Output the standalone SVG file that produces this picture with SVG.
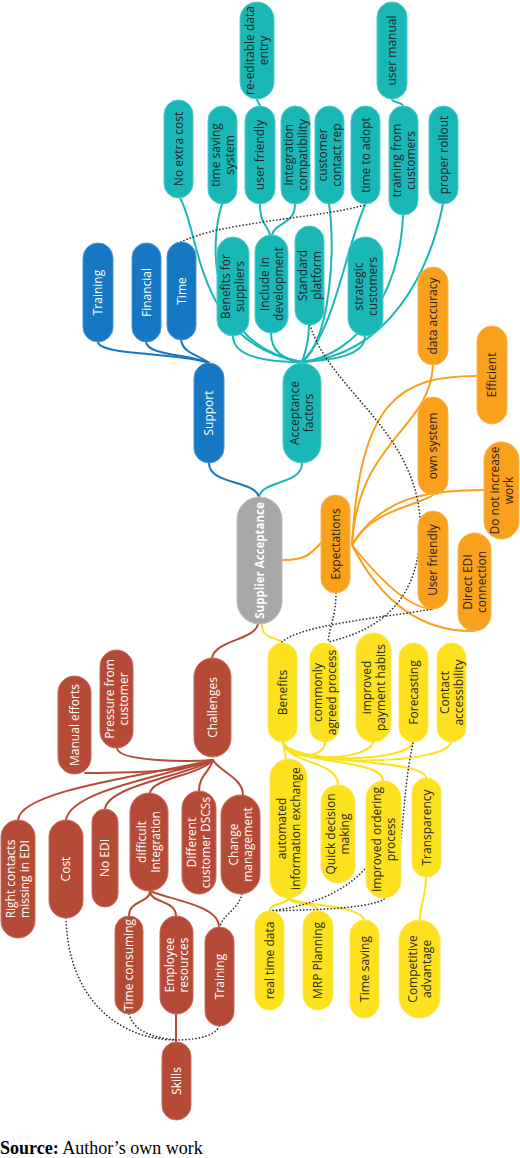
<svg xmlns="http://www.w3.org/2000/svg" width="520" height="1158" viewBox="0 0 520 1158">
<style>
text{font-family:"Open Sans","Noto Sans","DejaVu Sans",sans-serif;font-size:12px;text-anchor:middle}
.teal rect{fill:#19b8b7;stroke:#52cbca;stroke-width:1}
.teal text{fill:#1e2626}
.blue rect{fill:#1677c3;stroke:#4b95d3;stroke-width:1}
.blue text{fill:#ffffff}
.gray rect{fill:#a7a7a7;stroke:#bdbdbd;stroke-width:1}
.gray text{fill:#ffffff;font-weight:bold;font-size:11.5px}
.orange rect{fill:#f9a11d;stroke:#fbb650;stroke-width:1}
.orange text{fill:#2a2218}
.yellow rect{fill:#fde01e;stroke:#fde85a;stroke-width:1}
.yellow text{fill:#2a2a10}
.red rect{fill:#b54b37;stroke:#c86e5c;stroke-width:1}
.red text{fill:#ffffff}
.c{fill:none;stroke-width:2;stroke-linecap:round}
.ct{stroke:#19b8b7}.cb{stroke:#1677c3}.co{stroke:#f9a11d}.cy{stroke:#fde01e}.cr{stroke:#b54b37}
.dot{fill:none;stroke:#333;stroke-width:1.7;stroke-dasharray:0.1 3.3;stroke-linecap:round}
.src{font-family:"Liberation Serif","Times New Roman",serif;font-size:18px;text-anchor:start;fill:#000}
</style>
<g id="connectors">
<!-- teal -->
<path class="c ct" d="M302,463 C302,485 262,480 259,497"/>
<path class="c ct" d="M233,336 C233,355 260,362 302,362"/>
<path class="c ct" d="M271,333 C271,352 285,360 302,362"/>
<path class="c ct" d="M309,325 C309,345 304,355 302,362"/>
<path class="c ct" d="M365,336 C365,355 335,360 302,362"/>
<path class="c ct" d="M180,198 C200,230 195,345 302,362"/>
<path class="c ct" d="M222,204 C210,240 205,345 302,362"/>
<path class="c ct" d="M329,204 C336,250 330,340 302,362"/>
<path class="c ct" d="M365,205 C345,250 335,330 302,362"/>
<path class="c ct" d="M403,215 C400,290 360,355 302,362"/>
<path class="c ct" d="M443,204 C430,270 390,355 302,362"/>
<path class="c ct" d="M260,204 C260,225 268,225 270,235"/>
<path class="c ct" d="M295,204 C295,225 275,222 272,235"/>
<path class="c ct" d="M257,99 C257,103 260,103 260,106"/>
<path class="c ct" d="M392,99 C392,103 403,102 403,106"/>
<!-- blue -->
<path class="c cb" d="M209,463 C209,485 255,480 259,497"/>
<path class="c cb" d="M98,342 C100,356 180,352 209,363"/>
<path class="c cb" d="M146,342 C148,356 190,354 209,363"/>
<path class="c cb" d="M181,340 C183,354 200,355 209,363"/>
<!-- orange -->
<path class="c co" d="M282,560 C305,560 310,555 321,543"/>
<path class="c co" d="M352,545 C358,440 430,430 433,365"/>
<path class="c co" d="M352,545 C360,400 400,376 477,376"/>
<path class="c co" d="M352,545 C370,510 420,505 433,495"/>
<path class="c co" d="M352,545 C380,500 420,490 484,490"/>
<path class="c co" d="M352,545 C380,580 410,609 433,609"/>
<path class="c co" d="M352,545 C380,600 420,632 474,631"/>
<!-- red -->
<path class="c cr" d="M258,624 C255,640 215,640 212,658"/>
<path class="c cr" d="M117,748 C118,762 190,762 213,760"/>
<path class="c cr" d="M85,773 C150,773 190,770 213,760"/>
<path class="c cr" d="M18,820 C20,790 150,775 213,760"/>
<path class="c cr" d="M66,820 C70,790 170,775 213,760"/>
<path class="c cr" d="M105,809 C108,785 190,775 213,760"/>
<path class="c cr" d="M150,793 C152,778 200,775 213,760"/>
<path class="c cr" d="M199,791 C199,775 210,772 213,760"/>
<path class="c cr" d="M243,795 C243,778 220,772 213,760"/>
<path class="c cr" d="M150,891 C150,903 129,900 129,916"/>
<path class="c cr" d="M150,891 C150,903 176,900 176,916"/>
<path class="c cr" d="M150,891 C170,900 219,905 219,927"/>
<path class="c cr" d="M176,1014 L176,1042"/>
<!-- yellow -->
<path class="c cy" d="M262,624 C262,640 276,636 283,643"/>
<path class="c cy" d="M283,742 C285,760 325,760 325,742"/>
<path class="c cy" d="M283,742 C287,765 370,760 373,742"/>
<path class="c cy" d="M283,742 C290,765 410,762 413,742"/>
<path class="c cy" d="M283,742 C292,768 448,765 451,742"/>
<path class="c cy" d="M283,742 L286,760"/>
<path class="c cy" d="M283,742 C288,765 338,760 338,785"/>
<path class="c cy" d="M283,742 C290,765 383,758 383,781"/>
<path class="c cy" d="M283,742 C292,765 426,758 426,778"/>
<path class="c cy" d="M288,898 C288,905 270,902 270,911"/>
<path class="c cy" d="M288,898 C290,905 318,902 318,911"/>
<path class="c cy" d="M288,898 C300,906 362,905 364,920"/>
<path class="c cy" d="M426,877 C426,900 420,900 420,920"/>
<!-- dotted relations -->
<path class="dot" d="M181,242 C220,222 320,218 365,205"/>
<path class="dot" d="M310,325 C330,390 415,430 420,520 C423,600 380,630 328,642"/>
<path class="dot" d="M336,593 C336,615 330,625 328,642"/>
<path class="dot" d="M282,642 C300,625 380,618 433,609"/>
<path class="dot" d="M413,743 C400,800 405,880 383,900 C360,910 300,910 270,911"/>
<path class="dot" d="M378,850 C360,885 320,905 270,911"/>
<path class="dot" d="M242,894 C238,910 222,915 220,927"/>
<path class="dot" d="M66,918 C68,1000 120,1040 176,1040"/>
<path class="dot" d="M129,1014 C135,1035 160,1038 176,1040"/>
<path class="dot" d="M219,1026 C215,1038 190,1040 176,1040"/>
</g>
<!-- teal nodes -->
<g id="re-editable" class="teal"><rect x="240" y="2" width="34" height="97" rx="17"/><text transform="translate(257,50.5) rotate(-90)"><tspan x="0" y="-2.8">re-editable data</tspan><tspan x="0" y="11.2">entry</tspan></text></g>
<g id="user-manual" class="teal"><rect x="377" y="2" width="30" height="97" rx="15"/><text transform="translate(392,50.5) rotate(-90)" y="4.2">user manual</text></g>
<g id="no-extra-cost" class="teal"><rect x="164" y="100" width="29" height="98" rx="14.5"/><text transform="translate(178.5,149) rotate(-90)" y="4.2">No extra cost</text></g>
<g id="time-saving-system" class="teal"><rect x="208" y="106" width="29" height="98" rx="14.5"/><text transform="translate(222.5,155) rotate(-90)"><tspan x="0" y="-2.8">time saving</tspan><tspan x="0" y="11.2">system</tspan></text></g>
<g id="user-friendly-t" class="teal"><rect x="245" y="106" width="30" height="98" rx="15"/><text transform="translate(260,155) rotate(-90)" y="4.2">user friendly</text></g>
<g id="integration-compat" class="teal"><rect x="281" y="106" width="29" height="98" rx="14.5"/><text transform="translate(295.5,155) rotate(-90)"><tspan x="0" y="-2.8">Integration</tspan><tspan x="0" y="11.2">compatibility</tspan></text></g>
<g id="customer-contact" class="teal"><rect x="315" y="106" width="29" height="98" rx="14.5"/><text transform="translate(329.5,155) rotate(-90)"><tspan x="0" y="-2.8">customer</tspan><tspan x="0" y="11.2">contact rep</tspan></text></g>
<g id="time-to-adopt" class="teal"><rect x="351" y="106" width="29" height="98" rx="14.5"/><text transform="translate(365.5,155) rotate(-90)" y="4.2">time to adopt</text></g>
<g id="training-from-customers" class="teal"><rect x="389" y="106" width="29" height="109" rx="14.5"/><text transform="translate(403.5,160.5) rotate(-90)"><tspan x="0" y="-2.8">training from</tspan><tspan x="0" y="11.2">customers</tspan></text></g>
<g id="proper-rollout" class="teal"><rect x="429" y="106" width="29" height="98" rx="14.5"/><text transform="translate(443.5,155) rotate(-90)" y="4.2">proper rollout</text></g>
<g id="benefits-for-suppliers" class="teal"><rect x="217" y="237" width="32" height="99" rx="16"/><text transform="translate(233,286.5) rotate(-90)"><tspan x="0" y="-2.8">Benefits for</tspan><tspan x="0" y="11.2">suppliers</tspan></text></g>
<g id="include-in-development" class="teal"><rect x="255" y="235" width="33" height="98" rx="16.5"/><text transform="translate(271.5,284) rotate(-90)"><tspan x="0" y="-2.8">Include in</tspan><tspan x="0" y="11.2">development</tspan></text></g>
<g id="standard-platform" class="teal"><rect x="295" y="226" width="29" height="99" rx="14.5"/><text transform="translate(309.5,275.5) rotate(-90)"><tspan x="0" y="-2.8">Standard</tspan><tspan x="0" y="11.2">platform</tspan></text></g>
<g id="strategic-customers" class="teal"><rect x="348" y="237" width="35" height="99" rx="17.5"/><text transform="translate(365.5,286.5) rotate(-90)"><tspan x="0" y="-2.8">strategic</tspan><tspan x="0" y="11.2">customers</tspan></text></g>
<g id="acceptance-factors" class="teal"><rect x="283" y="363" width="38" height="100" rx="19"/><text transform="translate(302,413) rotate(-90)"><tspan x="0" y="-2.8">Acceptance</tspan><tspan x="0" y="11.2">factors</tspan></text></g>
<!-- blue nodes -->
<g id="training-b" class="blue"><rect x="83" y="243" width="30" height="99" rx="15"/><text transform="translate(98,292.5) rotate(-90)" y="4.2">Training</text></g>
<g id="financial" class="blue"><rect x="132" y="243" width="29" height="99" rx="14.5"/><text transform="translate(146.5,292.5) rotate(-90)" y="4.2">Financial</text></g>
<g id="time-b" class="blue"><rect x="167" y="242" width="29" height="98" rx="14.5"/><text transform="translate(181.5,291) rotate(-90)" y="4.2">Time</text></g>
<g id="support" class="blue"><rect x="194" y="363" width="30" height="100" rx="15"/><text transform="translate(209,413) rotate(-90)" y="4.2">Support</text></g>
<!-- center -->
<g id="supplier-acceptance" class="gray"><rect x="237" y="497" width="45" height="127" rx="22.5"/><text transform="translate(259.5,560.5) rotate(-90)" y="4">Supplier Acceptance</text></g>
<!-- orange nodes -->
<g id="data-accuracy" class="orange"><rect x="418" y="267" width="30" height="98" rx="15"/><text transform="translate(433,316) rotate(-90)" y="4.2">data accuracy</text></g>
<g id="efficient" class="orange"><rect x="477" y="326" width="30" height="98" rx="15"/><text transform="translate(492,375) rotate(-90)" y="4.2">Efficient</text></g>
<g id="own-system" class="orange"><rect x="418" y="397" width="30" height="98" rx="15"/><text transform="translate(433,446) rotate(-90)" y="4.2">own system</text></g>
<g id="do-not-increase-work" class="orange"><rect x="484" y="442" width="35" height="97" rx="17.5"/><text transform="translate(501.5,490.5) rotate(-90)"><tspan x="0" y="-2.8">Do not increase</tspan><tspan x="0" y="11.2">work</tspan></text></g>
<g id="expectations" class="orange"><rect x="321" y="495" width="29" height="98" rx="14.5"/><text transform="translate(335.5,544) rotate(-90)" y="4.2">Expectations</text></g>
<g id="user-friendly-o" class="orange"><rect x="418" y="511" width="30" height="98" rx="15"/><text transform="translate(433,560) rotate(-90)" y="4.2">User friendly</text></g>
<g id="direct-edi" class="orange"><rect x="458" y="533" width="33" height="98" rx="16.5"/><text transform="translate(474.5,582) rotate(-90)"><tspan x="0" y="-2.8">Direct EDI</tspan><tspan x="0" y="11.2">connection</tspan></text></g>
<!-- yellow nodes -->
<g id="benefits" class="yellow"><rect x="268" y="643" width="29" height="99" rx="14.5"/><text transform="translate(282.5,692.5) rotate(-90)" y="4.2">Benefits</text></g>
<g id="commonly-agreed" class="yellow"><rect x="310" y="643" width="29" height="99" rx="14.5"/><text transform="translate(324.5,692.5) rotate(-90)"><tspan x="0" y="-2.8">commonly</tspan><tspan x="0" y="11.2">agreed process</tspan></text></g>
<g id="improved-payment" class="yellow"><rect x="356" y="633" width="35" height="109" rx="17.5"/><text transform="translate(373.5,687.5) rotate(-90)"><tspan x="0" y="-2.8">improved</tspan><tspan x="0" y="11.2">payment habits</tspan></text></g>
<g id="forecasting" class="yellow"><rect x="399" y="643" width="29" height="99" rx="14.5"/><text transform="translate(413.5,692.5) rotate(-90)" y="4.2">Forecasting</text></g>
<g id="contact-accessibility" class="yellow"><rect x="437" y="643" width="29" height="99" rx="14.5"/><text transform="translate(451.5,692.5) rotate(-90)"><tspan x="0" y="-2.8">Contact</tspan><tspan x="0" y="11.2">accessibility</tspan></text></g>
<g id="automated-info" class="yellow"><rect x="270" y="759" width="37" height="139" rx="18.5"/><text transform="translate(288.5,828.5) rotate(-90)"><tspan x="0" y="-2.8">automated</tspan><tspan x="0" y="11.2">information exchange</tspan></text></g>
<g id="quick-decision" class="yellow"><rect x="321" y="785" width="34" height="98" rx="17"/><text transform="translate(338,834) rotate(-90)"><tspan x="0" y="-2.8">Quick decision</tspan><tspan x="0" y="11.2">making</tspan></text></g>
<g id="improved-ordering" class="yellow"><rect x="366" y="781" width="35" height="117" rx="17.5"/><text transform="translate(383.5,839.5) rotate(-90)"><tspan x="0" y="-2.8">Improved ordering</tspan><tspan x="0" y="11.2">process</tspan></text></g>
<g id="transparency" class="yellow"><rect x="412" y="778" width="29" height="99" rx="14.5"/><text transform="translate(426.5,827.5) rotate(-90)" y="4.2">Transparency</text></g>
<g id="real-time-data" class="yellow"><rect x="255" y="911" width="29" height="99" rx="14.5"/><text transform="translate(269.5,960.5) rotate(-90)" y="4.2">real time data</text></g>
<g id="mrp-planning" class="yellow"><rect x="303" y="911" width="30" height="99" rx="15"/><text transform="translate(318,960.5) rotate(-90)" y="4.2">MRP Planning</text></g>
<g id="time-saving" class="yellow"><rect x="350" y="920" width="29" height="98" rx="14.5"/><text transform="translate(364.5,969) rotate(-90)" y="4.2">Time saving</text></g>
<g id="competitive-advantage" class="yellow"><rect x="399" y="920" width="41" height="98" rx="20.5"/><text transform="translate(419.5,969) rotate(-90)"><tspan x="0" y="-2.8">Competitive</tspan><tspan x="0" y="11.2">advantage</tspan></text></g>
<!-- red nodes -->
<g id="challenges" class="red"><rect x="194" y="658" width="37" height="99" rx="18.5"/><text transform="translate(212.5,707.5) rotate(-90)" y="4.2">Challenges</text></g>
<g id="pressure-from-customer" class="red"><rect x="100" y="650" width="33" height="98" rx="16.5"/><text transform="translate(116.5,699) rotate(-90)"><tspan x="0" y="-2.8">Pressure from</tspan><tspan x="0" y="11.2">customer</tspan></text></g>
<g id="manual-efforts" class="red"><rect x="58" y="676" width="33" height="98" rx="16.5"/><text transform="translate(74.5,725) rotate(-90)" y="4.2">Manual efforts</text></g>
<g id="right-contacts" class="red"><rect x="1" y="820" width="34" height="118" rx="17"/><text transform="translate(18,879) rotate(-90)"><tspan x="0" y="-2.8">Right contacts</tspan><tspan x="0" y="11.2">missing in EDI</tspan></text></g>
<g id="cost" class="red"><rect x="49" y="820" width="34" height="98" rx="17"/><text transform="translate(66,869) rotate(-90)" y="4.2">Cost</text></g>
<g id="no-edi" class="red"><rect x="92" y="809" width="26" height="98" rx="13"/><text transform="translate(105,858) rotate(-90)" y="4.2">No EDI</text></g>
<g id="difficult-integration" class="red"><rect x="130" y="793" width="38" height="98" rx="19"/><text transform="translate(149,842) rotate(-90)"><tspan x="0" y="-2.8">difficult</tspan><tspan x="0" y="11.2">Integration</tspan></text></g>
<g id="different-customer" class="red"><rect x="182" y="791" width="34" height="103" rx="17"/><text transform="translate(199,842.5) rotate(-90)"><tspan x="0" y="-2.8">Different</tspan><tspan x="0" y="11.2">customer DSCSs</tspan></text></g>
<g id="change-management" class="red"><rect x="221" y="795" width="39" height="99" rx="19.5"/><text transform="translate(240.5,844.5) rotate(-90)"><tspan x="0" y="-2.8">Change</tspan><tspan x="0" y="11.2">management</tspan></text></g>
<g id="time-consuming" class="red"><rect x="115" y="916" width="28" height="98" rx="14"/><text transform="translate(129,965) rotate(-90)" y="4.2">Time consuming</text></g>
<g id="employee-resources" class="red"><rect x="160" y="916" width="33" height="98" rx="16.5"/><text transform="translate(176.5,965) rotate(-90)"><tspan x="0" y="-2.8">Employee</tspan><tspan x="0" y="11.2">resources</tspan></text></g>
<g id="training-r" class="red"><rect x="205" y="927" width="29" height="99" rx="14.5"/><text transform="translate(219.5,976.5) rotate(-90)" y="4.2">Training</text></g>
<g id="skills" class="red"><rect x="162" y="1042" width="29" height="78" rx="14.5"/><text transform="translate(176.5,1081) rotate(-90)" y="4.2">Skills</text></g>
<text class="src" x="0" y="1154"><tspan font-weight="bold">Source:</tspan> Author’s own work</text>
</svg>
